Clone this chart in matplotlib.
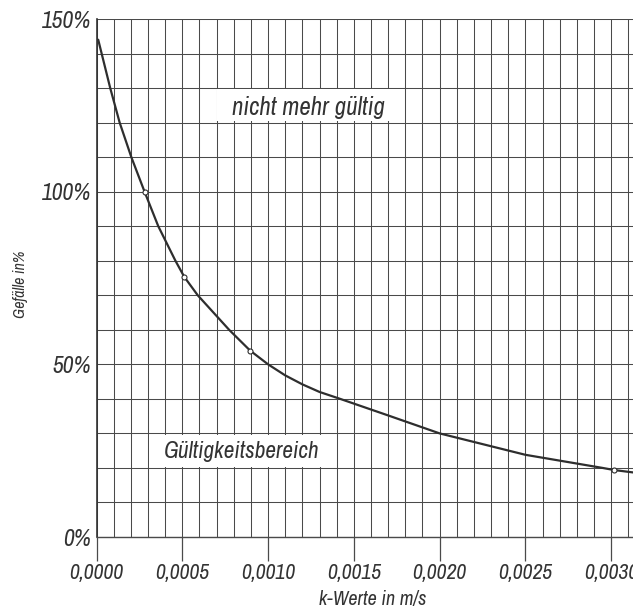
import matplotlib
matplotlib.use("Agg")
import matplotlib.pyplot as plt
from matplotlib import font_manager
from matplotlib.patches import Rectangle
from matplotlib.ticker import FuncFormatter, MultipleLocator

# k-values (m/s) and slope (%)
k_values = [0.00001, 0.00003, 0.00008, 0.000135, 0.000203, 0.00028, 0.00036,
            0.00046, 0.000512, 0.00059, 0.000773, 0.000895, 0.001, 0.0011,
            0.0012, 0.0013, 0.00142, 0.0017, 0.002, 0.0025, 0.00295,
            0.003016, 0.003127]
gefaelle = [144.0, 140.0, 130.0, 120.0, 110.0, 100.0, 90.0,
            80.0, 75.3, 70.0, 60.0, 54.0, 50.0, 46.8,
            44.2, 42.0, 40.0, 35.2, 30.0, 23.8, 20.0,
            19.4, 18.7]

# marked support points on the curve
marker_k = [0.00028, 0.000512, 0.000895, 0.003016]
marker_g = [100.0, 75.3, 54.0, 19.4]

x_major = [0.0, 0.0005, 0.0010, 0.0015, 0.0020, 0.0025, 0.0030]
y_major = [0, 50, 100, 150]


def pick_font():
    """Prefer a narrow sans face for the lettering, fall back to Roboto."""
    entries = font_manager.fontManager.ttflist
    for e in entries:
        if "Narrow" in e.name or "Condensed" in e.name:
            return {"family": [e.name, "DejaVu Sans"], "stretch": "normal"}
    for e in entries:
        if e.name == "DejaVu Sans" and "condensed" in str(e.stretch):
            return {"family": ["DejaVu Sans"], "stretch": "condensed"}
    return {"family": ["Roboto", "DejaVu Sans"], "stretch": "normal"}


FONT = pick_font()
INK = "#333333"
GRID = "#4a4a4a"


def style(t, size):
    t.set_fontfamily(FONT["family"])
    t.set_fontstretch(FONT["stretch"])
    t.set_fontstyle("italic")
    t.set_fontsize(size)
    t.set_color(INK)


fig = plt.figure(figsize=(6.33, 6.08), dpi=100)
ax = fig.add_axes([96.5 / 633, 71 / 608, 536.5 / 633, 518 / 608])

ax.set_xlim(0, 0.003127)
ax.set_ylim(0, 150)

ax.xaxis.set_minor_locator(MultipleLocator(0.0001))
ax.yaxis.set_minor_locator(MultipleLocator(10))
ax.set_xticks(x_major)
ax.set_yticks(y_major)

ax.xaxis.set_major_formatter(FuncFormatter(lambda v, p: f"{v:.4f}".replace(".", ",")))
ax.yaxis.set_major_formatter(FuncFormatter(lambda v, p: f"{v:.0f}%"))

ax.set_axisbelow(True)
ax.grid(which="both", color=GRID, linewidth=0.75)

ax.tick_params(axis="x", which="major", length=17, width=0.9, color=GRID,
               pad=2, direction="out")
ax.tick_params(axis="x", which="minor", length=0)
ax.tick_params(axis="y", which="both", length=0, pad=4)

for lab in ax.get_xticklabels():
    style(lab, 15.5)
for lab in ax.get_yticklabels():
    style(lab, 17)

for side in ["top", "right"]:
    ax.spines[side].set_visible(False)
ax.spines["left"].set_color(INK)
ax.spines["left"].set_linewidth(1.2)
ax.spines["bottom"].set_color(GRID)
ax.spines["bottom"].set_linewidth(1.0)

# white label boxes over the grid
ax.add_patch(Rectangle((0.000705, 120.4), 0.00109, 9.2, facecolor="white",
                       edgecolor="none", zorder=1))
ax.add_patch(Rectangle((0.000305, 20.4), 0.00109, 9.2, facecolor="white",
                       edgecolor="none", zorder=1))

ax.plot(k_values, gefaelle, color="#2e2e2e", linewidth=1.6, zorder=3,
        solid_capstyle="round", solid_joinstyle="round", clip_on=False)
ax.plot(marker_k, marker_g, linestyle="none", marker="o", markersize=3.6,
        markerfacecolor="white", markeredgecolor="#2e2e2e", markeredgewidth=0.8,
        zorder=4, clip_on=False)

t1 = ax.text(0.001236, 124.4, "nicht mehr gültig", ha="center", va="center",
             zorder=5)
style(t1, 18)
t2 = ax.text(0.000844, 24.8, "Gültigkeitsbereich", ha="center", va="center",
             zorder=5)
style(t2, 16.8)

t3 = fig.text(20 / 633, 1 - 284 / 608, "Gefälle in%", rotation=90, ha="center",
              va="center")
style(t3, 11.5)
t4 = fig.text(373 / 633, 1 - 599 / 608, "k-Werte in m/s", ha="center",
              va="center")
style(t4, 14.5)

fig.savefig("out.png", dpi=100, facecolor="white")
